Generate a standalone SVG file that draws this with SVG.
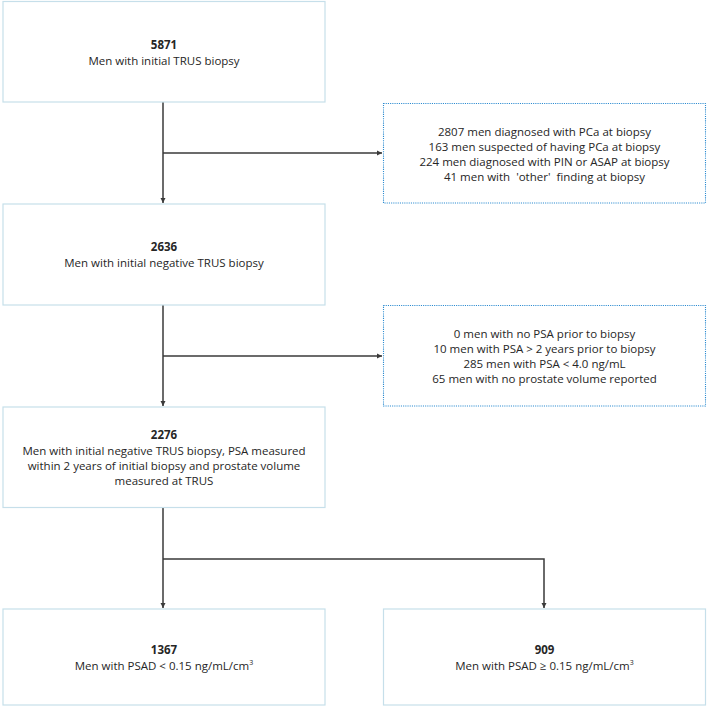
<svg xmlns="http://www.w3.org/2000/svg" width="709" height="708" viewBox="0 0 709 708">
<defs>
<style>
.box{fill:#fff;stroke:#c6dfea;stroke-width:1.2}
.dbox{fill:#fff;stroke:#2a8ad0;stroke-width:1.1;stroke-dasharray:1.1 1.1}
text{font-family:"Open Sans","Noto Sans","Liberation Sans",sans-serif;font-size:11.5px;fill:#262626;text-anchor:middle}
.b{font-weight:bold}
.sup{font-size:7px}
.c{fill:none;stroke:#3a3a3a;stroke-width:1.5}
</style>
<marker id="ah" markerWidth="6" markerHeight="6" refX="5" refY="3" orient="auto" markerUnits="userSpaceOnUse">
<path d="M0,0.5 L5,3 L0,5.5 Z" fill="#3a3a3a"/>
</marker>
</defs>
<rect width="709" height="708" fill="#fff"/>
<g id="connectors">
<path class="c" d="M163,102 V203" marker-end="url(#ah)"/>
<path class="c" d="M163,153 H382" marker-end="url(#ah)"/>
<path class="c" d="M163,305 V406" marker-end="url(#ah)"/>
<path class="c" d="M163,356 H382" marker-end="url(#ah)"/>
<path class="c" d="M163,508 V608" marker-end="url(#ah)"/>
<path class="c" d="M163,559 H544 V608" marker-end="url(#ah)"/>
</g>
<g id="n5871">
<rect class="box" x="3" y="1.5" width="322" height="100.5"/>
<text x="164" y="49" class="b">5871</text>
<text x="164" y="65">Men with initial TRUS biopsy</text>
</g>
<g id="excl1">
<rect class="dbox" x="383.5" y="103.5" width="322" height="99.5"/>
<text x="544.5" y="136">2807 men diagnosed with PCa at biopsy</text>
<text x="544.5" y="151">163 men suspected of having PCa at biopsy</text>
<text x="544.5" y="166">224 men diagnosed with PIN or ASAP at biopsy</text>
<text x="544.5" y="181" style="white-space:pre">41 men with  'other'  finding at biopsy</text>
</g>
<g id="n2636">
<rect class="box" x="3" y="204" width="322" height="101"/>
<text x="164" y="251" class="b">2636</text>
<text x="164" y="267">Men with initial negative TRUS biopsy</text>
</g>
<g id="excl2">
<rect class="dbox" x="383.5" y="305.5" width="322" height="100.5"/>
<text x="544.5" y="338">0 men with no PSA prior to biopsy</text>
<text x="544.5" y="353">10 men with PSA &gt; 2 years prior to biopsy</text>
<text x="544.5" y="368">285 men with PSA &lt; 4.0 ng/mL</text>
<text x="544.5" y="383">65 men with no prostate volume reported</text>
</g>
<g id="n2276">
<rect class="box" x="3" y="407" width="322" height="100.5"/>
<text x="164" y="439" class="b">2276</text>
<text x="164" y="455">Men with initial negative TRUS biopsy, PSA measured</text>
<text x="164" y="470">within 2 years of initial biopsy and prostate volume</text>
<text x="164" y="485">measured at TRUS</text>
</g>
<g id="n1367">
<rect class="box" x="3" y="609" width="322" height="96"/>
<text x="164" y="654" class="b">1367</text>
<text x="164" y="670">Men with PSAD &lt; 0.15 ng/mL/cm<tspan class="sup" dy="-5">3</tspan></text>
</g>
<g id="n909">
<rect class="box" x="383.5" y="609" width="322" height="96"/>
<text x="544.5" y="654" class="b">909</text>
<text x="544.5" y="670">Men with PSAD ≥ 0.15 ng/mL/cm<tspan class="sup" dy="-5">3</tspan></text>
</g>
</svg>
